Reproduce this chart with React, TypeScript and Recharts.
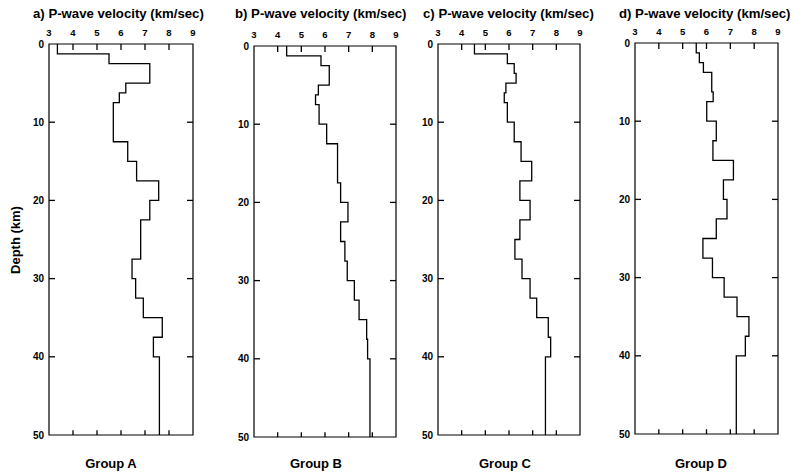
import { ScatterChart, Scatter, XAxis, YAxis, ReferenceArea, ReferenceLine } from "recharts";

// velocity layers: top depth of each layer (km) and P-wave velocity (km/sec)
const baseDepth = 50;
const velTicks = [3, 4, 5, 6, 7, 8, 9];
const depthTicks = [0, 10, 20, 30, 40, 50];
const innerVel = [4, 5, 6, 7, 8];
const innerDepth = [10, 20, 30, 40];

const topsA = [0, 1.25, 2.5, 5, 6.25, 7.5, 12.5, 15, 17.5, 20, 22.5, 27.5, 30, 32.5, 35, 37.5, 40];
const velA = [3.35, 5.5, 7.2, 6.2, 5.93, 5.68, 6.28, 6.65, 7.57, 7.2, 6.82, 6.46, 6.61, 6.93, 7.72, 7.35, 7.6];

const topsB = [0, 1.25, 2.5, 5, 6.25, 7.5, 10, 12.5, 17.5, 20, 22.5, 25, 27.5, 30, 32.5, 35, 37.5, 40];
const velB = [4.38, 5.83, 6.18, 5.72, 5.6, 5.75, 6.07, 6.53, 6.66, 6.97, 6.66, 6.84, 6.94, 7.24, 7.44, 7.76, 7.8, 7.9];

const topsC = [0, 1.25, 2.5, 3.75, 5, 6.25, 7.5, 10, 12.5, 15, 17.5, 20, 22.5, 25, 27.5, 30, 32.5, 35, 37.5, 40];
const velC = [4.54, 5.93, 6.22, 6.3, 5.87, 5.8, 5.93, 6.22, 6.51, 6.96, 6.46, 6.89, 6.46, 6.25, 6.55, 6.89, 7.17, 7.66, 7.76, 7.54];

const topsD = [0, 1.25, 2.5, 3.75, 6.25, 7.5, 10, 12.5, 15, 17.5, 20, 22.5, 25, 27.5, 30, 32.5, 35, 37.5, 40];
const velD = [5.57, 5.7, 5.87, 6.22, 6.28, 6.01, 6.41, 6.27, 7.13, 6.71, 6.86, 6.41, 5.85, 6.25, 6.74, 7.28, 7.78, 7.63, 7.25];

const FONT = "'Liberation Sans', Arial, sans-serif";

// turn layers into a step profile (two points per layer)
function profile(tops: number[], vels: number[]) {
  const pts: { v: number; d: number }[] = [];
  tops.forEach((top, i) => {
    const bottom = i < tops.length - 1 ? tops[i + 1] : baseDepth;
    pts.push({ v: vels[i], d: top });
    pts.push({ v: vels[i], d: bottom });
  });
  return pts;
}

const panels = [
  { tops: topsA, vels: velA, box: { left: 49, top: 44, width: 144, height: 391 } },
  { tops: topsB, vels: velB, box: { left: 254, top: 46, width: 142, height: 391 } },
  { tops: topsC, vels: velC, box: { left: 438, top: 44, width: 142, height: 391 } },
  { tops: topsD, vels: velD, box: { left: 635, top: 43, width: 143, height: 391 } },
];

const titles = [
  { text: "a) P-wave velocity (km/sec)", x: 33 },
  { text: "b) P-wave velocity (km/sec)", x: 235 },
  { text: "c) P-wave velocity (km/sec)", x: 423 },
  { text: "d) P-wave velocity (km/sec)", x: 619 },
];
const groups = [
  { text: "Group A", x: 111 },
  { text: "Group B", x: 316 },
  { text: "Group C", x: 505 },
  { text: "Group D", x: 701 },
];

const TopLabel = (p: any) => (
  <text x={p.x} y={p.y - 8} textAnchor="middle" fontSize={9.5} fontWeight={700} fontFamily={FONT} fill="#000">
    {p.payload.value}
  </text>
);
const LeftLabel = (p: any) => (
  <text x={p.x - 5} y={p.y + 3.5} textAnchor="end" fontSize={10} fontWeight={700} fontFamily={FONT} fill="#000">
    {p.payload.value}
  </text>
);

const tickStroke = { stroke: "#000", strokeWidth: 1.3, ifOverflow: "visible" as const };

function Panel({ tops, vels, box }: { tops: number[]; vels: number[]; box: { left: number; top: number; width: number; height: number } }) {
  const data = profile(tops, vels);
  // inward tick length in data units (about 6px)
  const dLen = (6 / box.height) * 50;
  const vLen = (6 / box.width) * 6;
  return (
    <div style={{ position: "absolute", left: box.left - 40, top: 0 }}>
      <ScatterChart
        width={box.width + 44}
        height={475}
        margin={{ top: box.top - 30, left: 0, right: 4, bottom: 475 - box.top - box.height }}
      >
        <XAxis
          xAxisId="t"
          type="number"
          dataKey="v"
          orientation="top"
          domain={[3, 9]}
          ticks={velTicks}
          interval={0}
          height={30}
          tickSize={0}
          tickMargin={0}
          axisLine={false}
          tickLine={false}
          tick={TopLabel}
        />
        <YAxis
          yAxisId="l"
          type="number"
          dataKey="d"
          reversed
          domain={[0, 50]}
          ticks={depthTicks}
          interval={0}
          width={40}
          tickSize={0}
          tickMargin={0}
          axisLine={false}
          tickLine={false}
          tick={LeftLabel}
        />
        <ReferenceArea
          xAxisId="t"
          yAxisId="l"
          x1={3}
          x2={9}
          y1={0}
          y2={50}
          fill="none"
          stroke="#000"
          strokeWidth={1.2}
          fillOpacity={0}
          strokeOpacity={1}
          ifOverflow="visible"
        />
        {innerVel.map((v) => (
          <ReferenceLine key={"t" + v} xAxisId="t" yAxisId="l" segment={[{ x: v, y: 0 }, { x: v, y: dLen }]} {...tickStroke} />
        ))}
        {innerVel.map((v) => (
          <ReferenceLine key={"b" + v} xAxisId="t" yAxisId="l" segment={[{ x: v, y: 50 }, { x: v, y: 50 - dLen * 0.8 }]} {...tickStroke} />
        ))}
        {innerDepth.map((d) => (
          <ReferenceLine key={"l" + d} xAxisId="t" yAxisId="l" segment={[{ x: 3, y: d }, { x: 3 + vLen, y: d }]} {...tickStroke} />
        ))}
        {innerDepth.map((d) => (
          <ReferenceLine key={"r" + d} xAxisId="t" yAxisId="l" segment={[{ x: 9, y: d }, { x: 9 - vLen, y: d }]} {...tickStroke} />
        ))}
        <Scatter
          xAxisId="t"
          yAxisId="l"
          data={data}
          line={{ stroke: "#000", strokeWidth: 1.3 }}
          lineType="joint"
          shape={() => <g />}
          isAnimationActive={false}
        />
      </ScatterChart>
    </div>
  );
}

export default function App() {
  return (
    <div style={{ position: "absolute", left: 0, top: 0, width: 793, height: 475, background: "#fff" }}>
      {panels.map((p, i) => (
        <Panel key={i} tops={p.tops} vels={p.vels} box={p.box} />
      ))}
      <svg width={793} height={475} style={{ position: "absolute", left: 0, top: 0, pointerEvents: "none" }}>
        {titles.map((t) => (
          <text key={t.text} x={t.x} y={18} fontSize={13.2} fontWeight={700} fontFamily={FONT} fill="#000">
            {t.text}
          </text>
        ))}
        {groups.map((g) => (
          <text key={g.text} x={g.x} y={468} fontSize={13} fontWeight={700} fontFamily={FONT} fill="#000" textAnchor="middle">
            {g.text}
          </text>
        ))}
        <text x={20} y={240} fontSize={13} fontWeight={700} fontFamily={FONT} fill="#000" textAnchor="middle" transform="rotate(-90, 20, 240)">
          Depth (km)
        </text>
      </svg>
    </div>
  );
}
